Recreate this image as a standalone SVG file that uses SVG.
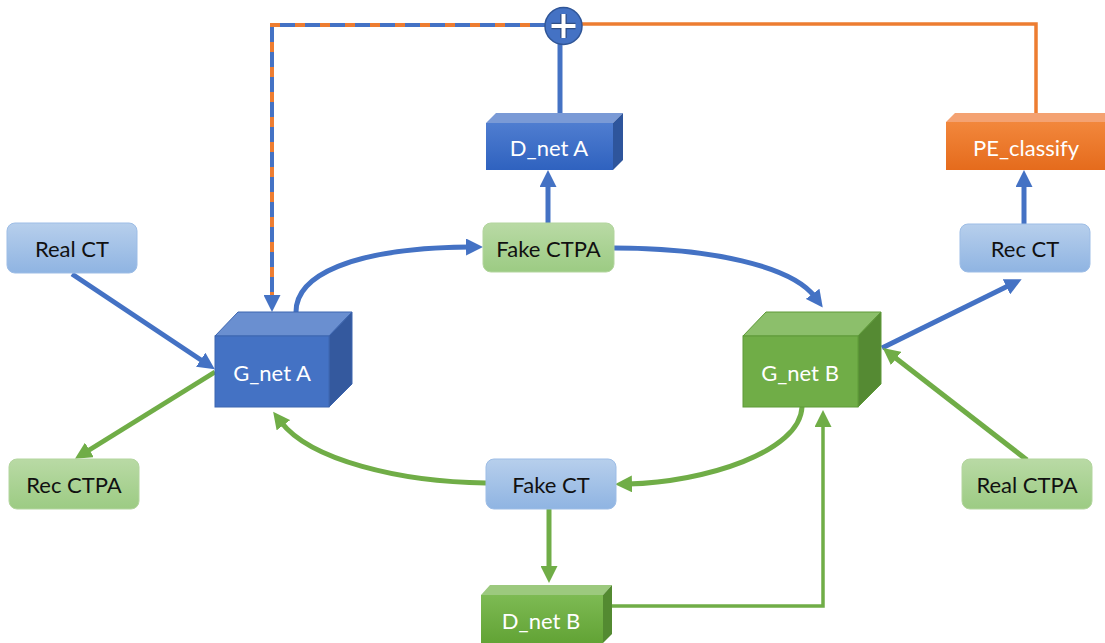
<svg xmlns="http://www.w3.org/2000/svg" width="1105" height="643" viewBox="0 0 1105 643">
<style>
text{font-family:Lato,"Liberation Sans",Arial,sans-serif;font-size:22px;text-anchor:middle;dominant-baseline:central}
.dk{fill:#111}
.wt{fill:#fff}
.lb{fill:url(#gLB);stroke:#9DBDE6;stroke-width:1}
.lg{fill:url(#gLG);stroke:#B3D59E;stroke-width:1}
.cb{fill:none;stroke:#4472C4;stroke-width:5}
.cg{fill:none;stroke:#70AD47;stroke-width:5}
</style>
<defs>
<linearGradient id="gLB" x1="0" y1="0" x2="0" y2="1"><stop offset="0" stop-color="#B7CFEC"/><stop offset="1" stop-color="#8FB4E2"/></linearGradient>
<linearGradient id="gLG" x1="0" y1="0" x2="0" y2="1"><stop offset="0" stop-color="#B9DAA5"/><stop offset="1" stop-color="#9CCB83"/></linearGradient>
<linearGradient id="gDA" x1="0" y1="0" x2="0" y2="1"><stop offset="0" stop-color="#4F7DD0"/><stop offset="1" stop-color="#2F62BF"/></linearGradient>
<linearGradient id="gPE" x1="0" y1="0" x2="0" y2="1"><stop offset="0" stop-color="#F2873C"/><stop offset="1" stop-color="#E56B1C"/></linearGradient>
<linearGradient id="gDB" x1="0" y1="0" x2="0" y2="1"><stop offset="0" stop-color="#7DBA53"/><stop offset="1" stop-color="#62A335"/></linearGradient>
<marker id="aB" markerUnits="userSpaceOnUse" markerWidth="17" markerHeight="17" refX="4" refY="8.5" orient="auto"><path d="M0,0 L17,8.5 L0,17 z" fill="#4472C4"/></marker>
<marker id="aG" markerUnits="userSpaceOnUse" markerWidth="17" markerHeight="17" refX="4" refY="8.5" orient="auto"><path d="M0,0 L17,8.5 L0,17 z" fill="#70AD47"/></marker>
</defs>
<rect width="1105" height="643" fill="#fff"/>

<g id="connectors">
<path d="M1036,113 V24 H581" fill="none" stroke="#ED7D31" stroke-width="3.5"/>
<path d="M545,25 H272 V299" fill="none" stroke="#ED7D31" stroke-width="4"/>
<path d="M545,25 H272 V299" fill="none" stroke="#4472C4" stroke-width="4" stroke-dasharray="15 10" marker-end="url(#aB)"/>
<path d="M560,113 V43" class="cb"/>
<path d="M72,274 L204,362" class="cb" marker-end="url(#aB)"/>
<path d="M215,372 L86,452" class="cg" marker-end="url(#aG)"/>
<path d="M296,312 C296,276 350,248 470,247" class="cb" marker-end="url(#aB)"/>
<path d="M548,223 V183" class="cb" marker-end="url(#aB)"/>
<path d="M614,248 C710,248 792,266 815,297" class="cb" marker-end="url(#aB)"/>
<path d="M882,348 L1010,285" class="cb" marker-end="url(#aB)"/>
<path d="M1024,224 V183" class="cb" marker-end="url(#aB)"/>
<path d="M1027,460 L893,356" class="cg" marker-end="url(#aG)"/>
<path d="M802,407 C800,452 705,482 628,484" class="cg" marker-end="url(#aG)"/>
<path d="M612,606 H823 V423" fill="none" stroke="#70AD47" stroke-width="3.5" marker-end="url(#aG)"/>
<path d="M549,508 V570" class="cg" marker-end="url(#aG)"/>
<path d="M486,483 C400,482 310,460 281,422" class="cg" marker-end="url(#aG)"/>
</g>

<g id="plus">
<circle cx="563.5" cy="26" r="18.5" fill="#4472C4" stroke="#2F5597" stroke-width="1.5"/>
<path d="M563.5,14 V38 M551.5,26 H575.5" stroke="#2F4F86" stroke-width="6.5"/>
<path d="M563.5,14 V38 M551.5,26 H575.5" stroke="#fff" stroke-width="4"/>
</g>

<g id="realCT"><rect class="lb" x="7" y="223" width="130" height="50" rx="8"/><text class="dk" x="72" y="248">Real CT</text></g>
<g id="recCT"><rect class="lb" x="960" y="224" width="130" height="48" rx="8"/><text class="dk" x="1025" y="248">Rec CT</text></g>
<g id="fakeCTPA"><rect class="lg" x="483" y="223" width="131" height="49" rx="8"/><text class="dk" x="548.5" y="248">Fake CTPA</text></g>
<g id="recCTPA"><rect class="lg" x="9" y="459" width="130" height="50" rx="8"/><text class="dk" x="74" y="484">Rec CTPA</text></g>
<g id="realCTPA"><rect class="lg" x="962" y="459" width="130" height="50" rx="8"/><text class="dk" x="1027" y="484">Real CTPA</text></g>
<g id="fakeCT"><rect class="lb" x="486" y="459" width="130" height="50" rx="8"/><text class="dk" x="551" y="484">Fake CT</text></g>

<g id="gnetA">
<polygon points="215,336 238,312 352,312 329,336" fill="#6A8FD0" stroke="#3D66B0" stroke-width="1"/>
<polygon points="329,336 352,312 352,384 329,407" fill="#34599E" stroke="#3D66B0" stroke-width="1"/>
<rect x="215" y="336" width="114" height="71" fill="#4472C4" stroke="#3D66B0" stroke-width="1"/>
<text class="wt" x="272" y="372">G_net A</text>
</g>
<g id="gnetB">
<polygon points="743,336 766,312 881,312 858,336" fill="#8CBF6B" stroke="#5E9A38" stroke-width="1"/>
<polygon points="858,336 881,312 881,384 858,407" fill="#558A33" stroke="#5E9A38" stroke-width="1"/>
<rect x="743" y="336" width="115" height="71" fill="#70AD47" stroke="#5E9A38" stroke-width="1"/>
<text class="wt" x="800" y="372">G_net B</text>
</g>
<g id="dnetA">
<polygon points="486,123 496,113 623,113 613,123" fill="#7A9AD6"/>
<polygon points="613,123 623,113 623,160 613,170" fill="#2E559C"/>
<rect x="486" y="123" width="127" height="47" fill="url(#gDA)"/>
<text class="wt" x="549" y="147">D_net A</text>
</g>
<g id="peClassify">
<polygon points="946,122 955,113 1110,113 1105,122" fill="#F4A272"/>
<rect x="946" y="122" width="162" height="48" fill="url(#gPE)"/>
<text class="wt" x="1026" y="147">PE_classify</text>
</g>
<g id="dnetB">
<polygon points="481,595 490,585 612,585 603,595" fill="#9CC97E"/>
<polygon points="603,595 612,585 612,634 603,643" fill="#538A31"/>
<rect x="481" y="595" width="122" height="48" fill="url(#gDB)"/>
<text class="wt" x="541" y="620">D_net B</text>
</g>
</svg>
